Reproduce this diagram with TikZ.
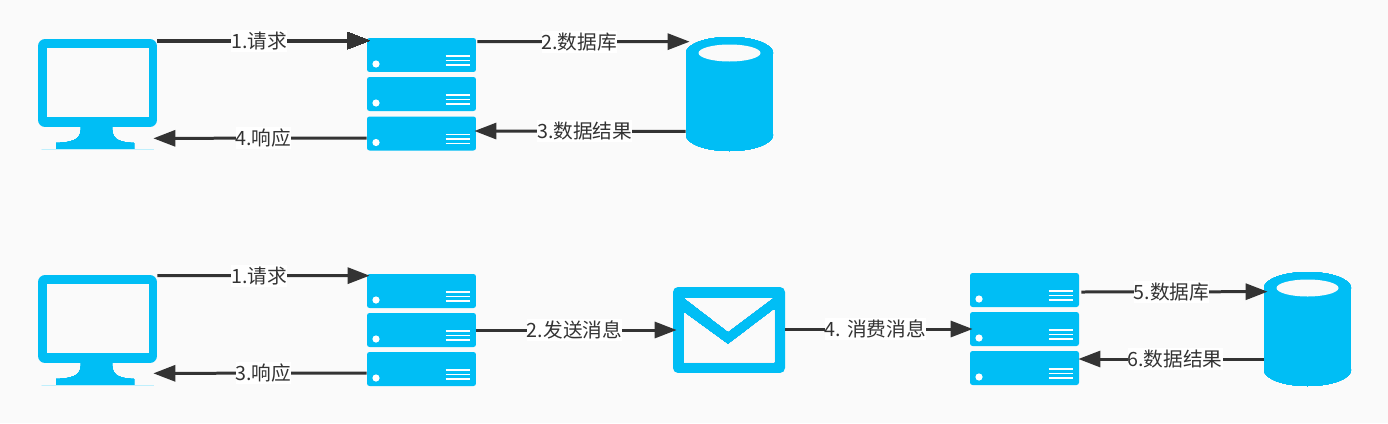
\documentclass[tikz,border=0pt]{standalone}
\usepackage{fontspec}
\setmainfont{Noto Sans CJK SC}
\usepackage{xcolor}
\usetikzlibrary{arrows.meta}
\definecolor{iconblue}{HTML}{00BEF5}
\definecolor{pagegray}{HTML}{FAFAFA}
\definecolor{linkgray}{HTML}{333333}
\tikzset{
    srvbox/.style={fill=iconblue,rounded corners=0.05cm,inner sep=0pt,minimum width=2.18cm,minimum height=0.68cm},
    monbox/.style={fill=iconblue,rounded corners=0.14cm,inner sep=0pt,minimum width=2.38cm,minimum height=1.76cm},
    dbbox/.style={fill=iconblue,inner sep=0pt,minimum width=1.74cm,minimum height=1.64cm},
    mailbox/.style={fill=iconblue,rounded corners=0.1cm,inner sep=0pt,minimum width=2.24cm,minimum height=1.72cm},
    link/.style={draw=linkgray,line width=0.06cm,-{Triangle[length=0.44cm,width=0.32cm]}},
    lbl/.style={fill=white,text=linkgray,font=\fontsize{11.2pt}{13pt}\selectfont,inner xsep=0pt,inner ysep=0pt,minimum height=0.44cm}
}
\newcommand{\srvmarks}[1]{
    \begin{scope}[shift={(#1.center)}]
        \fill[white] (-45.5,9) circle [radius=3.6];
        \foreach \y in {1,5.5,10}
            \draw[white,line width=0.026cm] (24,\y) -- (48,\y);
    \end{scope}
}
\newcommand{\monmarks}[1]{
    \begin{scope}[shift={(#1.center)}]
        \fill[pagegray] (-50.5,-35) rectangle (51.5,34);
        \fill[iconblue] (-16.5,43) .. controls (-16.5,55) and (-20,59) .. (-41.5,60) -- (-41.5,66) -- (36.5,66) -- (36.5,60) .. controls (18,59) and (14.5,55) .. (14.5,43) -- cycle;
        \draw[iconblue!25,line width=0.02cm] (-56,66) -- (56,66);
    \end{scope}
}
\newcommand{\dbmarks}[1]{
    \begin{scope}[shift={(#1.center)}]
        \fill[iconblue] (0,-41) ellipse [x radius=43.5,y radius=16];
        \fill[iconblue] (0,41) ellipse [x radius=43.5,y radius=16];
        \fill[pagegray] (0,-41) ellipse [x radius=31,y radius=8.5];
    \end{scope}
}
\newcommand{\mailmarks}[1]{
    \begin{scope}[shift={(#1.center)}]
        \fill[pagegray] (-44,-32) -- (43,-32) -- (-1,1) -- cycle;
        \fill[pagegray] (-45,-17) -- (-1,15) -- (45,-20) -- (45,32) -- (-45,32) -- cycle;
    \end{scope}
}
\begin{document}
\begin{tikzpicture}[x=0.02cm,y=-0.02cm]
        \useasboundingbox (0,0) rectangle (1388,423);
        \fill[pagegray] (0,0) rectangle (1388,423);
        \node[monbox] (MA) at (97.5,83) {};
        \node[srvbox] (SA1) at (421.5,55) {};
        \node[srvbox] (SA2) at (421.5,94) {};
        \node[srvbox] (SA3) at (421.5,133.5) {};
        \node[dbbox] (DA) at (729.5,94) {};
        \node[monbox] (MB) at (97.5,319) {};
        \node[srvbox] (SB1) at (421.5,291) {};
        \node[srvbox] (SB2) at (421.5,330) {};
        \node[srvbox] (SB3) at (421.5,369) {};
        \node[mailbox] (EB) at (729,330) {};
        \node[srvbox] (SC1) at (1024.5,290) {};
        \node[srvbox] (SC2) at (1024.5,329) {};
        \node[srvbox] (SC3) at (1024.5,368) {};
        \node[dbbox] (DB) at (1307.5,329) {};
        \foreach \n in {SA1,SA2,SA3,SB1,SB2,SB3,SC1,SC2,SC3}
            \srvmarks{\n}
        \foreach \n in {MA,MB}
            \monmarks{\n}
        \foreach \n in {DA,DB}
            \dbmarks{\n}
        \mailmarks{EB}
        \draw[link] ([shift={(0,2)}]MA.north east) -- node[lbl,pos=.48] (LA1) {1.请求} ([shift={(3,3)}]SA1.north west);
        \draw[link] ([shift={(1,4)}]SA1.north east) -- node[lbl,pos=.48] (LA2) {2.数据库} ([shift={(4,-11)}]DA.north west);
        \draw[link] ([shift={(0,-4)}]DA.south west) -- node[lbl,pos=.478] (LA3) {3.数据结果} ([shift={(-2,-2.5)}]SA3.east);
        \draw[link] ([shift={(0,4.5)}]SA3.west) -- node[lbl,pos=.484] (LA4) {4.响应} ([shift={(-4,11)}]MA.south east);
        \draw[link] ([shift={(0,1)}]MB.north east) -- node[lbl,pos=.48] (LB1) {1.请求} ([shift={(3,2)}]SB1.north west);
        \draw[link] (SB2.east) -- node[lbl,pos=.49] (LB2) {2.发送消息} ([shift={(4,0)}]EB.west);
        \draw[link] ([shift={(0,-1)}]EB.east) -- node[lbl,pos=.48] (LB3) {4. 消费消息} ([shift={(3,0)}]SC2.west);
        \draw[link] ([shift={(0,4)}]SB3.west) -- node[lbl,pos=.484] (LB4) {3.响应} ([shift={(-4,10)}]MB.south east);
        \draw[link] ([shift={(2,2)}]SC1.east) -- node[lbl,pos=.484] (LC1) {5.数据库} ([shift={(4,4)}]DB.north west);
        \draw[link] ([shift={(0,30)}]DB.west) -- node[lbl,pos=.478] (LC2) {6.数据结果} ([shift={(-1,-9)}]SC3.east);
    \end{tikzpicture}
\end{document}
